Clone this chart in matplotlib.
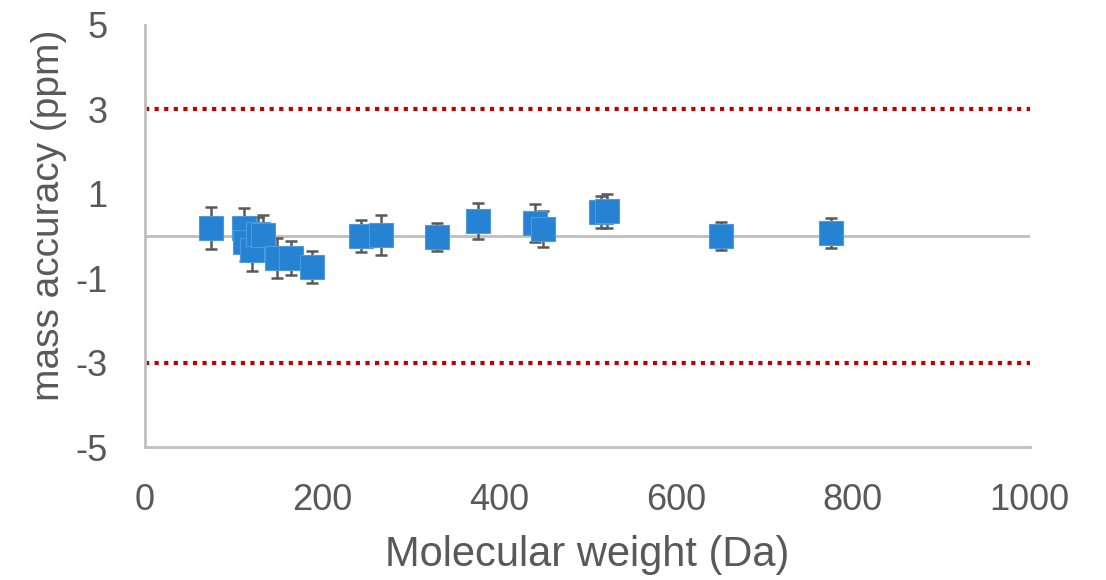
import matplotlib
matplotlib.use("Agg")
import matplotlib.pyplot as plt

# Molecular weight (Da), mass accuracy (ppm) and error (ppm)
mw = [75, 112, 113, 121, 128, 133, 149, 165, 189, 244, 267, 330, 376, 441, 450, 515, 522, 651, 776]
accuracy = [0.19, 0.18, -0.14, -0.33, 0.05, 0.02, -0.52, -0.52, -0.73, 0.0, 0.02, -0.03, 0.36, 0.31, 0.17, 0.57, 0.60, 0.0, 0.07]
error = [0.5, 0.48, 0.45, 0.5, 0.4, 0.48, 0.48, 0.4, 0.38, 0.38, 0.48, 0.33, 0.42, 0.45, 0.43, 0.38, 0.4, 0.33, 0.36]

limits = [3, -3]
yticks = [-5, -3, -1, 1, 3, 5]
xticks = [0, 200, 400, 600, 800, 1000]

plt.rcParams["font.family"] = ["Liberation Sans", "DejaVu Sans"]
plt.rcParams["axes.unicode_minus"] = False
grey = "#595959"

fig = plt.figure(figsize=(11.06, 5.8), dpi=100)
ax = fig.add_axes([0.131, 0.229, 0.80, 0.728])

ax.axhline(0, color="#BFBFBF", lw=2, zorder=1)
for lim in limits:
    ax.axhline(lim, color="#C00000", lw=3, ls=(0, (1, 1.3)), zorder=1)

ax.errorbar(mw, accuracy, yerr=error, fmt="none", ecolor=grey, elinewidth=1.8,
            capsize=4.5, capthick=1.8, zorder=2)
ax.plot(mw, accuracy, ls="none", marker="s", markersize=17, color="#2683D3",
        markeredgecolor="#4C9BE0", markeredgewidth=0.8, zorder=3)

ax.set_xlim(0, 1000)
ax.set_ylim(-5, 5)
ax.set_xticks(xticks)
ax.set_yticks(yticks)
ax.tick_params(length=0, labelsize=26, colors=grey)
ax.tick_params(axis="y", pad=27)
ax.tick_params(axis="x", pad=26)

for side in ["top", "right"]:
    ax.spines[side].set_visible(False)
for side in ["left", "bottom"]:
    ax.spines[side].set_color("#BFBFBF")
    ax.spines[side].set_linewidth(2)

ax.set_xlabel("Molecular weight (Da)", fontsize=30, color=grey, labelpad=12)
ax.set_ylabel("mass accuracy (ppm)", fontsize=28, color=grey, labelpad=6, y=0.55)

fig.savefig("out.png", dpi=100)
